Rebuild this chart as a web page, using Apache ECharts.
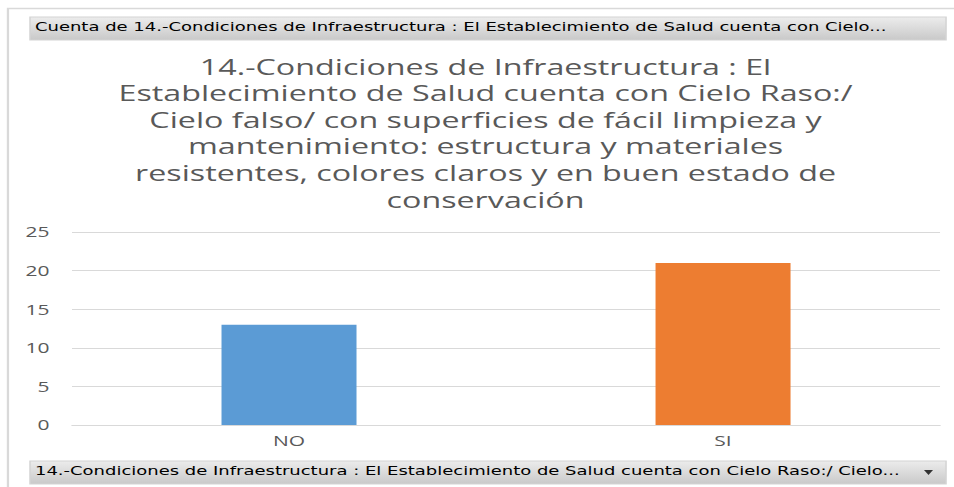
<!DOCTYPE html>
<html>
<head>
<meta charset="utf-8">
<script src="https://cdn.jsdelivr.net/npm/echarts@6/dist/echarts.min.js"></script>
<style>
html,body{margin:0;padding:0;background:#fff;overflow:hidden}
#c{width:636px;height:487px;transform:scaleX(1.5);transform-origin:0 0}
</style>
</head>
<body>
<div id="c"></div>
<script>
const categories = ['NO', 'SI'];
const counts = [13, 21];
const barColors = ['#5b9bd5', '#ed7d31'];
const yTicks = [0, 5, 10, 15, 20, 25];
const titleText = '14.-Condiciones de Infraestructura : El\nEstablecimiento de Salud cuenta con Cielo Raso:/\nCielo falso/ con superficies de fácil limpieza y\nmantenimiento: estructura y materiales\nresistentes, colores claros y en buen estado de\nconservación';
const topButtonText = 'Cuenta de 14.-Condiciones de Infraestructura : El Establecimiento de Salud cuenta con Cielo...';
const bottomButtonText = '14.-Condiciones de Infraestructura : El Establecimiento de Salud cuenta con Cielo Raso:/ Cielo...';

// The reference is stretched horizontally by 1.5; the chart is drawn at 636px and scaled by CSS.
const chart = echarts.init(document.getElementById('c'), null, {renderer: 'svg'});
const btnFill = new echarts.graphic.LinearGradient(0, 0, 0, 1, [
  {offset: 0, color: '#ececec'}, {offset: 1, color: '#c9c9c9'}
]);
chart.setOption({
  animation: false,
  title: {
    text: titleText,
    left: 318.7, top: 48, textAlign: 'center',
    textStyle: {fontFamily: 'Open Sans', fontSize: 21.5, fontWeight: 'normal', color: '#595959', lineHeight: 26.6}
  },
  grid: {left: 48, right: 9.3, top: 232, bottom: 62},
  xAxis: {
    type: 'category', data: categories,
    axisLine: {lineStyle: {color: '#d9d9d9'}},
    axisTick: {show: false},
    axisLabel: {color: '#595959', fontFamily: 'Open Sans', fontSize: 14, margin: 8}
  },
  yAxis: {
    type: 'value', min: 0, max: 25, interval: 5,
    axisLine: {show: false}, axisTick: {show: false},
    splitLine: {lineStyle: {color: '#d9d9d9'}},
    axisLabel: {color: '#595959', fontFamily: 'Open Sans', fontSize: 14, margin: 15,
      formatter: v => yTicks.includes(v) ? String(v) : ''}
  },
  series: [{
    type: 'bar', barWidth: 90,
    data: counts.map((v, i) => ({value: v, itemStyle: {color: barColors[i]}}))
  }],
  graphic: [
    {type: 'polyline', shape: {points: [[5.3, 487], [5.3, 8.5], [636, 8.5]]}, style: {stroke: '#d9d9d9', lineWidth: 1.5, fill: null}, silent: true},
    {type: 'rect', shape: {x: 20, y: 17, width: 610.7, height: 23}, style: {fill: btnFill, stroke: '#d4d4d4'}},
    {type: 'text', left: 23.3, top: 21, style: {text: topButtonText, fill: '#000', font: '12px "DejaVu Sans"'}},
    {type: 'rect', shape: {x: 20, y: 461, width: 610.7, height: 23}, style: {fill: btnFill, stroke: '#d4d4d4'}},
    {type: 'text', left: 23.3, top: 465, style: {text: bottomButtonText, fill: '#000', font: '12px "DejaVu Sans"'}},
    {type: 'polygon', shape: {points: [[616, 470], [622, 470], [619, 475]]}, style: {fill: '#333'}}
  ]
});
</script>
</body>
</html>
